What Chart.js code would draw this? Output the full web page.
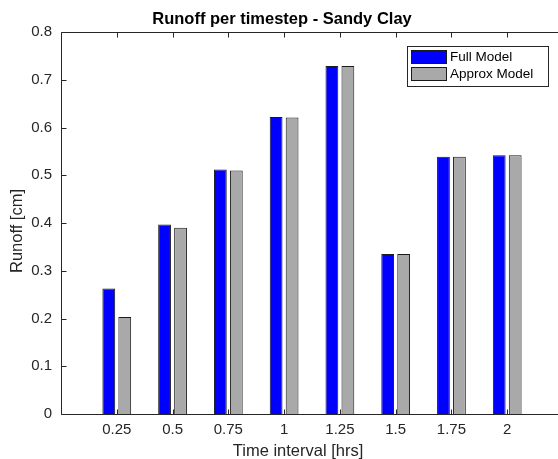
<!DOCTYPE html>
<html>
<head>
<meta charset="utf-8">
<script src="https://cdn.jsdelivr.net/npm/chart.js@4"></script>
<style>
  html, body { margin: 0; padding: 0; overflow: hidden; background: #fff; }
  #wrap { width: 580px; height: 459px; }
</style>
</head>
<body>
<div id="wrap"><canvas id="c" width="580" height="459"></canvas></div>
<script>
// Runoff per time step for the sandy clay soil, full vs approximate model
const intervals = [0.25, 0.5, 0.75, 1, 1.25, 1.5, 1.75, 2];
const fullModel = [0.263, 0.397, 0.512, 0.622, 0.729, 0.335, 0.539, 0.542];
const approxModel = [0.203, 0.390, 0.510, 0.621, 0.729, 0.335, 0.539, 0.542];
const yTicks = [0, 0.1, 0.2, 0.3, 0.4, 0.5, 0.6, 0.7, 0.8];
const seriesNames = ['Full Model', 'Approx Model'];
const titleText = 'Runoff per timestep - Sandy Clay';
const xTitle = 'Time interval [hrs]';
const yTitle = 'Runoff [cm]';

const FONT = "'Liberation Sans', Arial, Helvetica, sans-serif";
const INK = '#262626';

// MATLAB-like axes box with inward ticks, legend and titles
const frame = {
  id: 'frame',
  afterDatasetsDraw(chart) {
    const { ctx, chartArea: a, scales: { x, y } } = chart;
    ctx.save();
    ctx.strokeStyle = INK;
    ctx.lineWidth = 1;
    const L = Math.round(a.left) + 0.5, R = Math.round(a.right) + 0.5;
    const T = Math.round(a.top) + 0.5, B = Math.round(a.bottom) + 0.5;
    ctx.beginPath();
    ctx.rect(L, T, R - L, B - T);
    yTicks.forEach(v => {
      const py = Math.round(y.getPixelForValue(v)) + 0.5;
      ctx.moveTo(L, py); ctx.lineTo(L + 5, py);
      ctx.moveTo(R, py); ctx.lineTo(R - 5, py);
    });
    intervals.forEach(v => {
      const px = Math.round(x.getPixelForValue(v)) + 0.5;
      ctx.moveTo(px, B); ctx.lineTo(px, B - 5);
      ctx.moveTo(px, T); ctx.lineTo(px, T + 5);
    });
    ctx.stroke();

    // legend
    const lx = 407.5, ly = 46.5, lw = 141, lh = 40;
    ctx.fillStyle = '#fff';
    ctx.fillRect(lx, ly, lw, lh);
    ctx.strokeStyle = INK;
    ctx.strokeRect(lx, ly, lw, lh);
    chart.data.datasets.forEach((ds, i) => {
      const sy = 50.5 + i * 17;
      ctx.fillStyle = ds.backgroundColor;
      ctx.fillRect(411.5, sy, 35, 13);
      ctx.strokeStyle = '#1a1a1a';
      ctx.strokeRect(411.5, sy, 35, 13);
      ctx.fillStyle = '#000';
      ctx.font = '13.5px ' + FONT;
      ctx.textAlign = 'left';
      ctx.textBaseline = 'middle';
      ctx.fillText(ds.label, 450, sy + 7);
    });

    // titles
    ctx.fillStyle = '#000';
    ctx.textBaseline = 'alphabetic';
    ctx.textAlign = 'center';
    ctx.font = 'bold 16.5px ' + FONT;
    ctx.fillText(titleText, 282, 24);
    ctx.fillStyle = INK;
    ctx.font = '16.5px ' + FONT;
    ctx.fillText(xTitle, 298, 456);
    ctx.save();
    ctx.translate(21.5, 231);
    ctx.rotate(-Math.PI / 2);
    ctx.fillText(yTitle, 0, 0);
    ctx.restore();
    ctx.restore();
  }
};

const fmt = v => String(Number(v.toFixed(2)));

new Chart(document.getElementById('c'), {
  type: 'bar',
  data: {
    datasets: [
      {
        label: seriesNames[0],
        data: intervals.map((t, i) => ({ x: t, y: fullModel[i] })),
        backgroundColor: '#0000ff',
        borderColor: '#1a1a1a',
        borderWidth: 1
      },
      {
        label: seriesNames[1],
        data: intervals.map((t, i) => ({ x: t, y: approxModel[i] })),
        backgroundColor: '#a9a9a9',
        borderColor: '#1a1a1a',
        borderWidth: 1
      }
    ]
  },
  options: {
    responsive: false,
    animation: false,
    events: [],
    categoryPercentage: 0.573,
    barPercentage: 0.8,
    layout: { padding: { top: 32, right: 17, left: 0, bottom: 0 } },
    plugins: { legend: { display: false }, title: { display: false }, tooltip: { enabled: false } },
    scales: {
      x: {
        type: 'linear',
        min: 0,
        max: 2.25,
        offset: false,
        grid: { display: false, drawTicks: false, offset: false },
        border: { display: false },
        afterBuildTicks: s => { s.ticks = intervals.map(v => ({ value: v })); },
        afterFit: s => { s.height = 45; },
        ticks: {
          padding: 7,
          color: INK,
          font: { family: FONT, size: 15 },
          maxRotation: 0,
          callback: v => fmt(v)
        }
      },
      y: {
        min: 0,
        max: 0.8,
        grid: { display: false, drawTicks: false },
        border: { display: false },
        afterBuildTicks: s => { s.ticks = yTicks.map(v => ({ value: v })); },
        afterFit: s => { s.width = 61; },
        ticks: {
          padding: 9,
          color: INK,
          font: { family: FONT, size: 15 },
          callback: v => fmt(v)
        }
      }
    }
  },
  plugins: [frame]
});
</script>
</body>
</html>
